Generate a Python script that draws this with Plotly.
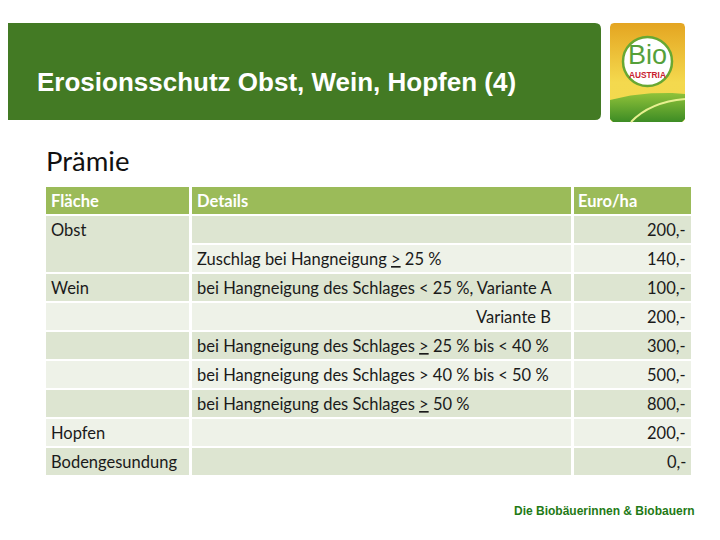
import numpy as np
import plotly.graph_objects as go

# ---------------- data ----------------
title_text = "Erosionsschutz Obst, Wein, Hopfen (4)"
subtitle_text = "Prämie"
footer_text = "Die Biobäuerinnen &amp; Biobauern"

header_labels = ["Fläche", "Details", "Euro/ha"]
flaeche = ["Obst", "", "Wein", "", "", "", "", "Hopfen", "Bodengesundung"]
flaeche_rowspan = [2, 0, 1, 1, 1, 1, 1, 1, 1]
details = [
    "",
    "Zuschlag bei Hangneigung <u>&gt;</u> 25 %",
    "bei Hangneigung des Schlages &lt; 25 %, Variante A",
    "Variante B",
    "bei Hangneigung des Schlages <u>&gt;</u> 25 % bis &lt; 40 %",
    "bei Hangneigung des Schlages &gt; 40 % bis &lt; 50 %",
    "bei Hangneigung des Schlages <u>&gt;</u> 50 %",
    "",
    "",
]
details_right = [False, False, False, True, False, False, False, False, False]
euro_per_ha = [200, 140, 100, 200, 300, 500, 800, 200, 0]

# ---------------- layout constants ----------------
W, H = 720, 540
OFF = 8  # page body margin
COL_X0 = [46, 192, 574]
COL_X1 = [189, 571, 691]
HEAD_Y0, HEAD_H = 187, 27
ROW_Y0, ROW_PITCH, CELL_H = 216, 29, 27
HEAD_COLOR = "#9bbb59"
DARK = "#dde5d1"
LIGHT = "#eef2e8"
TXT = "#1a1a1a"
TFONT = "Lato, Carlito, Calibri, sans-serif"
TSIZE = 16.5

fig = go.Figure()

# ---- table cells as horizontal bars ----
fig.add_trace(go.Bar(
    orientation="h",
    y=[HEAD_Y0 + HEAD_H / 2] * 3,
    x=[COL_X1[j] - COL_X0[j] for j in range(3)],
    base=COL_X0,
    width=HEAD_H,
    marker=dict(color=HEAD_COLOR, line=dict(width=0)),
    hoverinfo="skip", showlegend=False,
))

n = len(euro_per_ha)
for j in range(3):
    ys, ws, cs = [], [], []
    for i in range(n):
        span = flaeche_rowspan[i] if j == 0 else 1
        if span == 0:
            continue
        top = ROW_Y0 + i * ROW_PITCH
        h = (span - 1) * ROW_PITCH + CELL_H
        ys.append(top + h / 2)
        ws.append(h)
        cs.append(DARK if i % 2 == 0 else LIGHT)
    fig.add_trace(go.Bar(
        orientation="h",
        y=ys,
        x=[COL_X1[j] - COL_X0[j]] * len(ys),
        base=[COL_X0[j]] * len(ys),
        width=ws,
        marker=dict(color=cs, line=dict(width=0)),
        hoverinfo="skip", showlegend=False,
    ))

annotations = []


def ann(x, y, text, xanchor="left", size=TSIZE, color=TXT, family=TFONT, weight="normal",
        pad=1, bw=1):
    annotations.append(dict(
        x=x, y=y, xref="x", yref="y", text=text, showarrow=False,
        xanchor=xanchor, yanchor="middle", borderpad=pad, borderwidth=bw,
        font=dict(family=family, size=size, color=color, weight=weight),
    ))


hy = HEAD_Y0 + HEAD_H / 2
ann(COL_X0[0] + 3, hy, header_labels[0], color="white", weight="bold")
ann(COL_X0[1] + 3, hy, header_labels[1], color="white", weight="bold")
ann(COL_X0[2] + 2, hy, header_labels[2], color="white", weight="bold")

for i in range(n):
    cy = ROW_Y0 + i * ROW_PITCH + CELL_H / 2
    if flaeche[i]:
        ann(COL_X0[0] + 3, cy, flaeche[i])
    if details[i]:
        if details_right[i]:
            ann(COL_X1[1] - 18, cy, details[i], xanchor="right")
        else:
            ann(COL_X0[1] + 3, cy, details[i])
    ann(COL_X1[2] - 3, cy, f"{euro_per_ha[i]},-", xanchor="right")

# ---- slide header ----
shapes = []
r = 6
x0, x1, y0, y1 = -10, 601, 23, 120
shapes.append(dict(
    type="path", xref="x", yref="y",
    path=(f"M {x0},{y0} L {x1-r},{y0} Q {x1},{y0} {x1},{y0+r} "
          f"L {x1},{y1-r} Q {x1},{y1} {x1-r},{y1} L {x0},{y1} Z"),
    fillcolor="#437a24", line=dict(width=0), layer="below",
))
ann(35, 82, title_text, size=26, color="white",
    family="Liberation Sans, Arial, sans-serif", weight="bold")
ann(44, 160, subtitle_text, size=27.5, color="#111111")
ann(697, 511, footer_text, xanchor="right", size=12, color="#1f7a16",
    family="Liberation Sans Narrow, Arial Narrow, Liberation Sans, sans-serif", weight="bold")

# ---- logo ----
lx0, lx1, ly0, ly1, lr = 610, 685, 23, 122, 4


def rounded_rect(xa, xb, ya, yb, rad, k=8):
    pts = []
    for (cx, cy, a0) in [(xb - rad, ya + rad, -90), (xb - rad, yb - rad, 0),
                         (xa + rad, yb - rad, 90), (xa + rad, ya + rad, 180)]:
        for t in np.linspace(a0, a0 + 90, k):
            pts.append((cx + rad * np.cos(np.radians(t)), cy + rad * np.sin(np.radians(t))))
    pts.append(pts[0])
    return [p[0] for p in pts], [p[1] for p in pts]


rx, ry = rounded_rect(lx0, lx1, ly0, ly1, lr)
fig.add_trace(go.Scatter(
    x=rx, y=ry, mode="lines", fill="toself", line=dict(width=0),
    fillgradient=dict(type="vertical", start=ly0, stop=ly1,
                      colorscale=[[0, "#e4a521"], [0.6, "#f4d94e"], [1, "#f2d84e"]]),
    hoverinfo="skip", showlegend=False,
))
t = np.linspace(0, 1, 30)
hx = lx0 + (lx1 - lx0) * t
hy_ = (1 - t) ** 2 * 100 + 2 * (1 - t) * t * 90 + t ** 2 * 94
hill_x = list(hx) + [lx1, lx1 - 3, lx0 + 3, lx0, lx0]
hill_y = list(hy_) + [ly1 - 3, ly1, ly1, ly1 - 3, hy_[0]]
fig.add_trace(go.Scatter(
    x=hill_x, y=hill_y, mode="lines", fill="toself", line=dict(width=0),
    fillgradient=dict(type="vertical", start=92, stop=ly1,
                      colorscale=[[0, "#93c43a"], [1, "#3d8c25"]]),
    hoverinfo="skip", showlegend=False,
))
shapes.append(dict(type="path", xref="x", yref="y",
                   path=f"M 631,{ly1} Q 650,102 {lx1},99",
                   line=dict(color="#e8f090", width=2)))
shapes.append(dict(type="circle", xref="x", yref="y",
                   x0=623, x1=672, y0=37, y1=86,
                   fillcolor="white", line=dict(color="#68a832", width=2.5)))
ann(647.5, 54.5, "Bio", xanchor="center", size=27, color="#55a03a",
    family="Liberation Sans, Arial, sans-serif", pad=0, bw=0)
ann(647.5, 74.5, "AUSTRIA", xanchor="center", size=8.3, color="#c8202e",
    family="Liberation Sans, Arial, sans-serif", weight="bold", pad=0, bw=0)

fig.update_layout(
    width=W - OFF, height=H - OFF,
    margin=dict(l=0, r=0, t=0, b=0),
    paper_bgcolor="white", plot_bgcolor="white",
    barmode="overlay", bargap=0,
    xaxis=dict(range=[OFF, W], visible=False, fixedrange=True),
    yaxis=dict(range=[H, OFF], visible=False, fixedrange=True),
    shapes=shapes,
    annotations=annotations,
    showlegend=False,
)

fig.write_html("out.html", config={"displayModeBar": False, "staticPlot": True})
